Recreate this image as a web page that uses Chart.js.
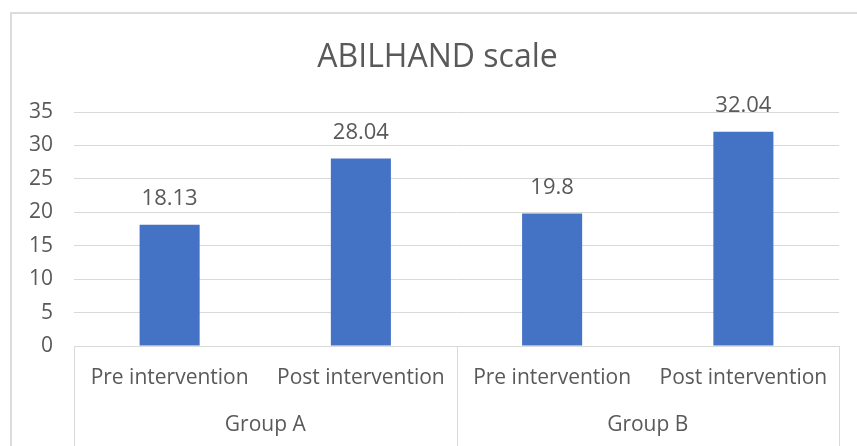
<!DOCTYPE html>
<html>
<head>
<meta charset="utf-8">
<script src="https://cdn.jsdelivr.net/npm/chart.js@4.4.1/dist/chart.umd.min.js"></script>
<style>
  html, body { margin: 0; padding: 0; background: #ffffff; }
  #wrap { width: 857px; height: 446px; }
</style>
</head>
<body>
<div id="wrap"><canvas id="chart" width="857" height="446"></canvas></div>
<script>
// ABILHAND scores before and after intervention, by group
const categories = ['Pre intervention', 'Post intervention', 'Pre intervention', 'Post intervention'];
const groups = ['Group A', 'Group B'];
const groupSizes = [2, 2];
const scores = [18.13, 28.04, 19.8, 32.04];
const yTicks = [0, 5, 10, 15, 20, 25, 30, 35];
const chartTitle = 'ABILHAND scale';

const TEXT = '#595959';
const LINE = '#d9d9d9';
const FONT = '"Open Sans", "Noto Sans", sans-serif';

// Frame around the whole chart, plus the title centred in it
const framePlugin = {
  id: 'frame',
  beforeDraw(chart) {
    const ctx = chart.ctx;
    ctx.save();
    ctx.fillStyle = '#ffffff';
    ctx.fillRect(0, 0, chart.width, chart.height);
    ctx.strokeStyle = '#dcdcdc';
    ctx.lineWidth = 2;
    ctx.strokeRect(11, 13, chart.width + 20, chart.height + 20);
    ctx.fillStyle = TEXT;
    ctx.font = '32px ' + FONT;
    ctx.textAlign = 'center';
    ctx.textBaseline = 'alphabetic';
    ctx.fillText(chartTitle, 437.5, 67);
    ctx.restore();
  }
};

// Value labels above bars and the two-level category axis
const labelsPlugin = {
  id: 'labels',
  afterDatasetsDraw(chart) {
    const ctx = chart.ctx;
    const meta = chart.getDatasetMeta(0);
    ctx.save();
    ctx.fillStyle = TEXT;
    ctx.font = '22px ' + FONT;
    ctx.textAlign = 'center';
    ctx.textBaseline = 'alphabetic';
    meta.data.forEach((bar, i) => {
      ctx.fillText(String(scores[i]), bar.x, bar.y - 20);
    });
    ctx.restore();
  },
  afterDraw(chart) {
    const ctx = chart.ctx;
    const x = chart.scales.x;
    const area = chart.chartArea;
    const step = (x.right - x.left) / categories.length;
    ctx.save();
    ctx.fillStyle = TEXT;
    ctx.textAlign = 'center';
    ctx.textBaseline = 'middle';
    ctx.font = '21px ' + FONT;
    categories.forEach((c, i) => {
      ctx.fillText(c, x.getPixelForValue(i), area.bottom + 32);
    });
    // group labels and separators
    ctx.strokeStyle = LINE;
    ctx.lineWidth = 1;
    let start = 0;
    const edges = [x.left];
    groups.forEach((g, gi) => {
      const end = start + groupSizes[gi] - 1;
      const cx = (x.getPixelForValue(start) + x.getPixelForValue(end)) / 2;
      ctx.fillText(g, cx, area.bottom + 79);
      edges.push(x.getPixelForValue(end) + step / 2);
      start = end + 1;
    });
    edges.forEach(ex => {
      const px = Math.round(ex) + 0.5;
      ctx.beginPath();
      ctx.moveTo(px, area.bottom);
      ctx.lineTo(px, chart.height);
      ctx.stroke();
    });
    ctx.restore();
  }
};

new Chart(document.getElementById('chart'), {
  type: 'bar',
  data: {
    labels: categories,
    datasets: [{
      data: scores,
      backgroundColor: '#4472c4',
      borderWidth: 0,
      barPercentage: 0.314,
      categoryPercentage: 1.0
    }]
  },
  options: {
    responsive: false,
    animation: false,
    devicePixelRatio: 1,
    layout: { padding: { left: 0, right: 18, top: 112, bottom: 0 } },
    plugins: {
      legend: { display: false },
      tooltip: { enabled: false },
      title: { display: false }
    },
    scales: {
      x: {
        grid: { display: false },
        border: { display: true, color: LINE, width: 1 },
        ticks: { display: false },
        afterFit(scale) { scale.height = 100; }
      },
      y: {
        min: 0,
        max: 35,
        afterBuildTicks(scale) { scale.ticks = yTicks.map(v => ({ value: v })); },
        grid: { color: LINE, drawTicks: false, lineWidth: 1 },
        border: { display: false },
        ticks: {
          color: TEXT,
          padding: 21,
          font: { family: FONT, size: 21 }
        },
        afterFit(scale) { scale.width = 74; }
      }
    }
  },
  plugins: [framePlugin, labelsPlugin]
});
</script>
</body>
</html>
